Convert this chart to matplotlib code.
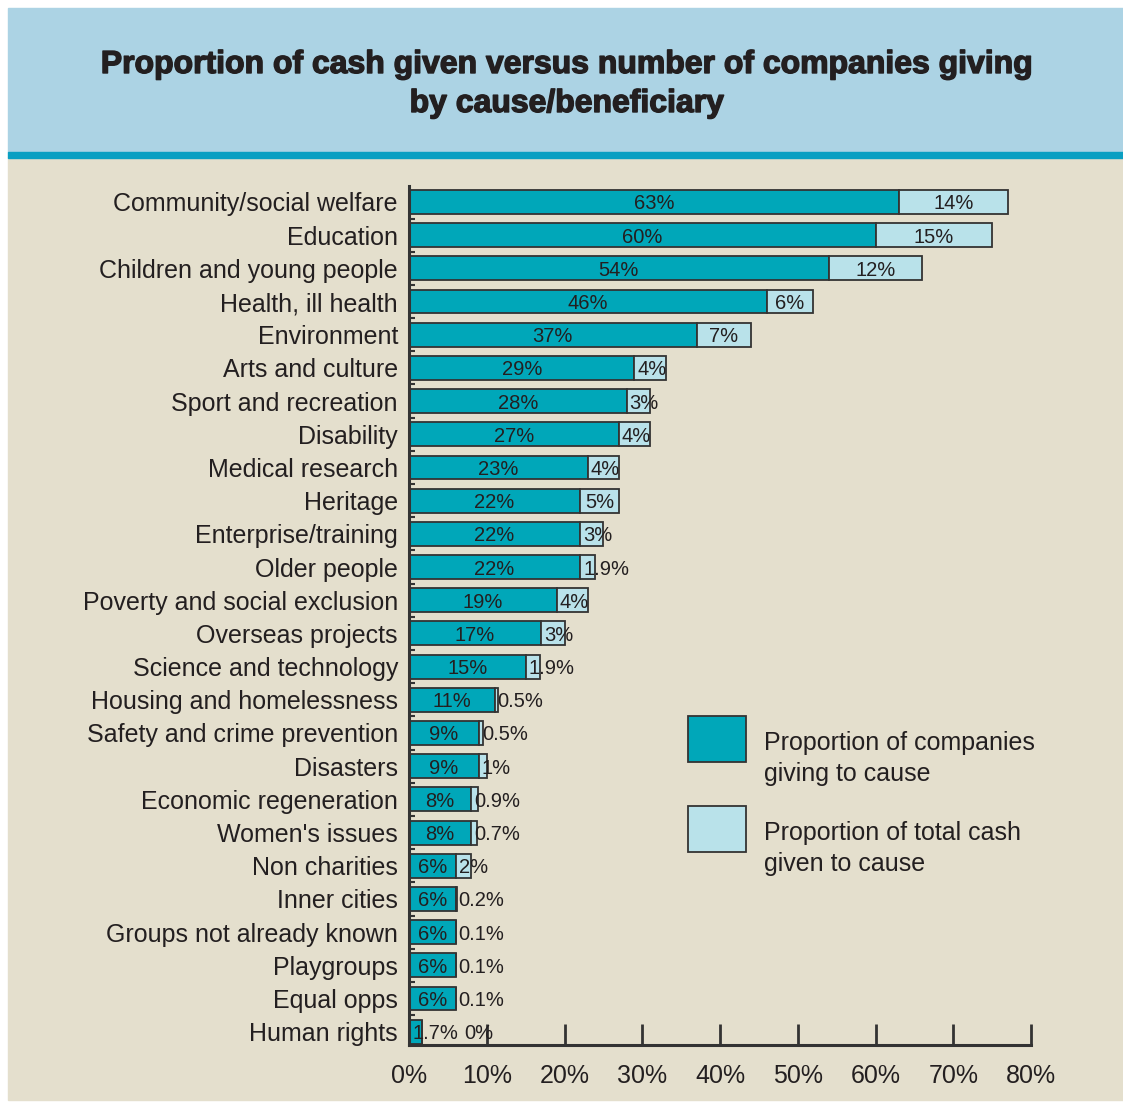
import matplotlib
matplotlib.use("Agg")
import matplotlib.pyplot as plt
import matplotlib.patheffects as pe
from matplotlib.patches import Rectangle

plt.rcParams['font.family'] = ['Liberation Sans', 'DejaVu Sans']

causes = [
    "Community/social welfare", "Education", "Children and young people",
    "Health, ill health", "Environment", "Arts and culture",
    "Sport and recreation", "Disability", "Medical research", "Heritage",
    "Enterprise/training", "Older people", "Poverty and social exclusion",
    "Overseas projects", "Science and technology", "Housing and homelessness",
    "Safety and crime prevention", "Disasters", "Economic regeneration",
    "Women's issues", "Non charities", "Inner cities",
    "Groups not already known", "Playgroups", "Equal opps", "Human rights",
]
companies_pct = [63, 60, 54, 46, 37, 29, 28, 27, 23, 22, 22, 22, 19, 17, 15,
                 11, 9, 9, 8, 8, 6, 6, 6, 6, 6, 1.7]
cash_pct = [14, 15, 12, 6, 7, 4, 3, 4, 4, 5, 3, 1.9, 4, 3, 1.9,
            0.5, 0.5, 1, 0.9, 0.7, 2, 0.2, 0.1, 0.1, 0.1, 0]
x_ticks = [0, 10, 20, 30, 40, 50, 60, 70, 80]
legend_labels = ["Proportion of companies\ngiving to cause",
                 "Proportion of total cash\ngiven to cause"]

DARK = "#00a7b9"
LIGHT = "#b9e2ea"
EDGE = "#333333"
TEXT = "#231f20"
BEIGE = "#e4dfcd"
SKY = "#acd3e4"
STRIPE = "#0a9fc2"

W, H = 1123, 1103
fig = plt.figure(figsize=(W / 100, H / 100), dpi=100, facecolor="white")


def fx(px):
    return px / W


def fy(py):
    return 1 - py / H


# page background panels
fig.patches.append(Rectangle((fx(8), fy(1100)), fx(W - 8), (1100 - 157) / H,
                             transform=fig.transFigure, color=BEIGE, zorder=-10))
fig.patches.append(Rectangle((fx(8), fy(152)), fx(W - 8), (152 - 8) / H,
                             transform=fig.transFigure, color=SKY, zorder=-10))
fig.patches.append(Rectangle((fx(8), fy(158)), fx(W - 8), 6 / H,
                             transform=fig.transFigure, color=STRIPE, zorder=-10))

title_fx = [pe.withStroke(linewidth=1.0, foreground=TEXT)]
fig.text(fx(567), fy(65), "Proportion of cash given versus number of companies giving",
         ha="center", va="center", fontsize=23, fontweight="bold", color=TEXT,
         path_effects=title_fx)
fig.text(fx(567), fy(104), "by cause/beneficiary",
         ha="center", va="center", fontsize=23, fontweight="bold", color=TEXT,
         path_effects=title_fx)

ax = fig.add_axes([fx(409), fy(1045), fx(1031 - 409), (1045 - 186) / H])
ax.set_facecolor("none")
ax.set_zorder(2)

n = len(causes)
ypos = list(range(n))
bh = 0.72
ax.barh(ypos, companies_pct, height=bh, color=DARK,
        edgecolor=EDGE, linewidth=1.3, zorder=3)
ax.barh(ypos, cash_pct, left=companies_pct, height=bh, color=LIGHT,
        edgecolor=EDGE, linewidth=1.3, zorder=3)

ax.set_xlim(0, 80)
ax.set_ylim(n - 0.6, -0.48)
ax.set_yticks(ypos)
ax.set_yticklabels(causes, fontsize=18, color=TEXT)
ax.set_yticks([i + 0.5 for i in range(n - 1)], minor=True)
ax.tick_params(axis="y", which="major", length=0, pad=8)
ax.tick_params(axis="y", which="minor", direction="in", length=4, width=1.5,
               color=EDGE)
ax.set_xticks(x_ticks)
ax.set_xticklabels([f"{t}%" for t in x_ticks], fontsize=18, color=TEXT)
ax.tick_params(axis="x", direction="in", length=15, width=2, color=EDGE, pad=14)
for side in ("top", "right"):
    ax.spines[side].set_visible(False)
for side in ("left", "bottom"):
    ax.spines[side].set_color(EDGE)
    ax.spines[side].set_linewidth(2.2)
    ax.spines[side].set_zorder(5)

fig.canvas.draw()
renderer = fig.canvas.get_renderer()
to_data = ax.transData.inverted()


def px_to_data(dx):
    x0 = to_data.transform((0, 0))[0]
    x1 = to_data.transform((dx, 0))[0]
    return x1 - x0


pad = px_to_data(3)
gap = px_to_data(6)
label_dy = 0.06


def place(x0, width, y, txt, min_left=None):
    t = ax.text(0, y + label_dy, txt, fontsize=14.5, color=TEXT, va="center",
                ha="left", zorder=6)
    tw = px_to_data(t.get_window_extent(renderer).width)
    if tw + 2 * pad <= width:
        x = x0 + (width - tw) / 2
    else:
        x = x0 + pad
    if min_left is not None:
        x = max(x, min_left)
    t.set_x(x)
    return x + tw


for i in range(n):
    c, k = companies_pct[i], cash_pct[i]
    end = place(0, c, i, f"{c:g}%")
    place(c, k, i, f"{k:g}%", min_left=end + gap)

# legend
for j, (lab, col) in enumerate(zip(legend_labels, [DARK, LIGHT])):
    top = 716 + j * 90
    fig.patches.append(Rectangle((fx(688), fy(top + 46)), fx(58), 46 / H,
                                 transform=fig.transFigure, facecolor=col,
                                 edgecolor=EDGE, linewidth=1.3, zorder=2))
    l1, l2 = lab.split("\n")
    fig.text(fx(764), fy(top + 27), l1, fontsize=18, color=TEXT, va="center")
    fig.text(fx(764), fy(top + 58), l2, fontsize=18, color=TEXT, va="center")

fig.savefig("out.png", dpi=100, facecolor="white")
